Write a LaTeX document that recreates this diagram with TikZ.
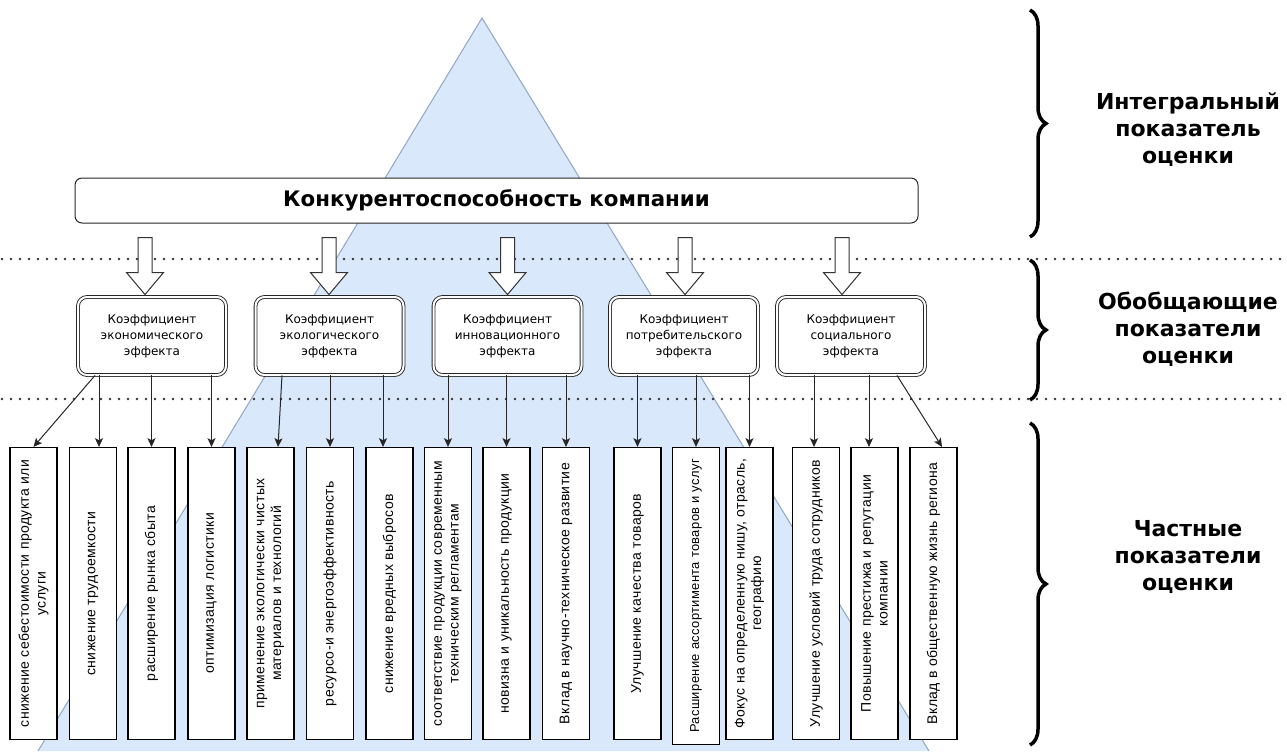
\documentclass[tikz,border=0pt]{standalone}
\usepackage{fontspec}
\usepackage{graphicx}
\setmainfont{Liberation Sans}
\newfontfamily\labfont{DejaVu Sans}
\newfontfamily\boxfont{DejaVu Sans}
\newfontfamily\smallfont[LetterSpace=3]{Liberation Sans}
\usetikzlibrary{arrows.meta,decorations.pathreplacing,calc}
\newlength\pxu
\setlength\pxu{0.75pt}
\definecolor{trifill}{HTML}{DAE8FC}
\definecolor{triedge}{HTML}{8FA6C6}
\begin{document}
\begin{tikzpicture}[x=0.75pt,y=-0.75pt,
  topbox/.style={draw=black!85, line width=1\pxu, rounded corners=7\pxu, fill=white,
    minimum width=843\pxu, minimum height=45\pxu, inner sep=0pt,
    font=\labfont\bfseries\fontsize{16}{19}\selectfont},
  midbox/.style={draw=black!85, line width=0.9\pxu, double=white, double distance=2\pxu,
    rounded corners=9\pxu, fill=white, minimum width=148\pxu, minimum height=78\pxu,
    inner sep=0pt, align=center, font=\boxfont\fontsize{9}{12}\selectfont},
  lowbox/.style={draw=black, line width=1.2\pxu, fill=white, minimum width=47\pxu,
    minimum height=292\pxu, inner sep=0pt},
  vtext/.style={rotate=90, align=center, inner sep=0pt,
    font=\smallfont\fontsize{10.5}{12.5}\selectfont},
  hollow/.style={draw=black!80, line width=1\pxu, fill=white, line join=miter},
  conn/.style={draw=black!85, line width=1\pxu, -{Stealth[length=6.5pt,width=6pt,inset=1.5pt]}},
  dots/.style={line width=2.6\pxu, line cap=round, dash pattern=on 0pt off 9\pxu, draw=black!80},
  bracestyle/.style={draw=black, line width=3.5\pxu, decorate, decoration={brace, amplitude=16\pxu}},
  lab/.style={align=center, font=\labfont\bfseries\fontsize{16.5}{20.25}\selectfont}
]
\useasboundingbox (0,0) rectangle (1287,751);

% background triangle
\fill[trifill] (482,18) -- (929,751) -- (38,751) -- cycle;
\draw[triedge, line width=1\pxu] (38,751) -- (482,18) -- (929,751);

% dotted separators
\draw[dots] (2,259) -- (1287,259);
\draw[dots] (2,399) -- (1287,399);

% top box
\node[topbox] (top) at (496.5,200.5) {Конкурентоспособность компании};

% middle boxes
\node[midbox] (m1) at (152,336)   {Коэффициент\\экономического\\эффекта};
\node[midbox] (m2) at (329.5,336) {Коэффициент\\экологического\\эффекта};
\node[midbox] (m3) at (507.5,336) {Коэффициент\\инновационного\\эффекта};
\node[midbox] (m4) at (684,336)   {Коэффициент\\потребительского\\эффекта};
\node[midbox] (m5) at (851,336)   {Коэффициент\\социального\\эффекта};

% hollow arrows from top box to middle boxes
\foreach \m/\dx in {m1/-7, m2/-0.5, m3/0, m4/1, m5/-9}{
  \draw[hollow, shift={($(\m.north)+(\dx,-2)$)}]
    (0,0) -- (18.5,-22) -- (7,-22) -- (7,-57) -- (-7,-57) -- (-7,-22) -- (-18.5,-22) -- cycle;
}

% bottom boxes
\node[lowbox] (b1)  at (33.5,593.5)  {};
\node[lowbox] (b2)  at (93,593.5)    {};
\node[lowbox] (b3)  at (151.5,593.5) {};
\node[lowbox] (b4)  at (211.5,593.5) {};
\node[lowbox] (b5)  at (270.5,593.5) {};
\node[lowbox] (b6)  at (330,593.5)   {};
\node[lowbox] (b7)  at (389.5,593.5) {};
\node[lowbox] (b8)  at (448,593.5)   {};
\node[lowbox] (b9)  at (506.5,593.5) {};
\node[lowbox] (b10) at (566,593.5)   {};
\node[lowbox] (b11) at (637.5,593.5) {};
\node[lowbox] (b12) at (696,596)     [minimum height=297\pxu] {};
\node[lowbox] (b13) at (749.5,593.5) {};
\node[lowbox] (b14) at (816,593.5)   {};
\node[lowbox] (b15) at (874.5,593.5) {};
\node[lowbox] (b16) at (933.5,593.5) {};

\node[vtext] (t1)  at (b1)  {снижение себестоимости продукта или\\услуги};
\node[vtext] (t2)  at (b2)  {снижение трудоемкости};
\node[vtext] (t3)  at (b3)  {расширение рынка сбыта};
\node[vtext] (t4)  at (b4)  {оптимизация логистики};
\node[vtext] (t5)  at (b5)  {применение экологически чистых\\материалов и технологий};
\node[vtext] (t6)  at (b6)  {ресурсо-и энергоэффективность};
\node[vtext] (t7)  at (b7)  {снижение вредных выбросов};
\node[vtext] (t8)  at (b8)  {соответствие продукции современным\\техническим регламентам};
\node[vtext] (t9)  at (b9)  {новизна и уникальность продукции};
\node[vtext] (t10) at (b10) {Вклад в научно-техническое развитие};
\node[vtext] (t11) at (b11) {Улучшение качества товаров};
\node[vtext, font=\smallfont\fontsize{9.7}{12.5}\selectfont] (t12) at (b12) {Расширение ассортимента товаров и услуг};
\node[vtext] (t13) at (b13) {Фокус на определенную нишу, отрасль,\\географию};
\node[vtext] (t14) at (b14) {Улучшение условий труда сотрудников};
\node[vtext] (t15) at (b15) {Повышение престижа и репутации\\компании};
\node[vtext] (t16) at (b16) {Вклад в общественную жизнь региона};

% connectors middle -> bottom
\draw[conn] ([xshift=-57\pxu]m1.south) -- (b1.north);
\draw[conn] ([xshift=6\pxu]b2.north |- m1.south) -- ([xshift=6\pxu]b2.north);
\draw[conn] (b3.north |- m1.south) -- (b3.north);
\draw[conn] (b4.north |- m1.south) -- (b4.north);
\draw[conn] ([xshift=11.5\pxu]b5.north |- m2.south) -- ([xshift=7.5\pxu]b5.north);
\draw[conn] (b6.north |- m2.south) -- (b6.north);
\draw[conn] ([xshift=-6.5\pxu]b7.north |- m2.south) -- ([xshift=-6.5\pxu]b7.north);
\draw[conn] (b8.north |- m3.south) -- (b8.north);
\draw[conn] (b9.north |- m3.south) -- (b9.north);
\draw[conn] (b10.north |- m3.south) -- (b10.north);
\draw[conn] (b11.north |- m4.south) -- (b11.north);
\draw[conn] (b12.north |- m4.south) -- (b12.north);
\draw[conn] (b13.north |- m4.south) -- (b13.north);
\draw[conn] ([xshift=-2\pxu]b14.north |- m5.south) -- ([xshift=-2\pxu]b14.north);
\draw[conn] ([xshift=-5.5\pxu]b15.north |- m5.south) -- ([xshift=-5.5\pxu]b15.north);
\draw[conn] ([xshift=46\pxu]m5.south) -- ([xshift=8.5\pxu]b16.north);

% braces
\coordinate (br1a) at (1030,10);  \coordinate (br1b) at (1030,237);
\coordinate (br2a) at (1030,260); \coordinate (br2b) at (1030,400);
\coordinate (br3a) at (1030,423); \coordinate (br3b) at (1030,745);
\draw[bracestyle] (br1a) -- (br1b);
\draw[bracestyle] (br2a) -- (br2b);
\draw[bracestyle] (br3a) -- (br3b);

% level labels
\node[lab] (l1) at (1188,130) {Интегральный\\показатель\\оценки};
\node[lab] (l2) at (1188,329) {Обобщающие\\показатели\\оценки};
\node[lab] (l3) at (1188,557) {Частные\\показатели\\оценки};
\end{tikzpicture}
\end{document}
